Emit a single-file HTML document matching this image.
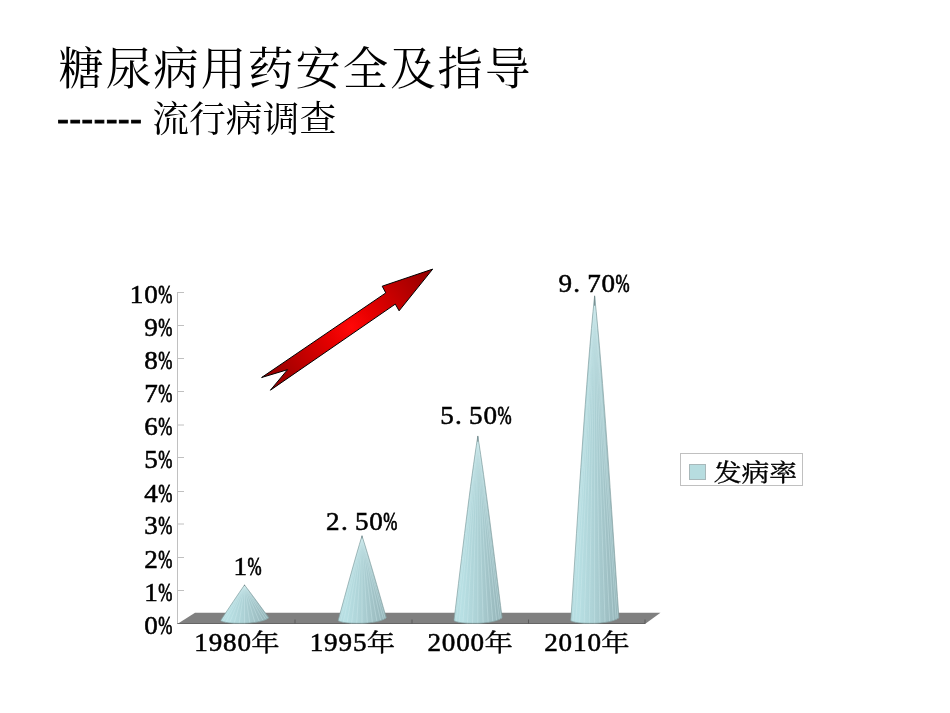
<!DOCTYPE html>
<html lang="zh-CN">
<head>
<meta charset="utf-8">
<title>糖尿病用药安全及指导</title>
<style>
html,body{margin:0;padding:0;background:#fff;}
body{width:950px;height:713px;overflow:hidden;position:relative;font-family:"Liberation Serif","Noto Serif CJK SC",serif;color:#000;}
.title{position:absolute;left:58.5px;top:42px;font-size:45.4px;letter-spacing:2px;line-height:56px;white-space:nowrap;font-weight:400;}
.sub{position:absolute;left:58px;top:97.6px;font-size:36.8px;line-height:44px;white-space:nowrap;}
.sub .dash{font-family:"Liberation Sans",sans-serif;font-size:36px;-webkit-text-stroke:0.9px #000;position:relative;top:-0.6px;margin-left:-1px;letter-spacing:0.17px;}
svg{position:absolute;left:0;top:0;}
svg text{font-family:"Liberation Serif","Noto Serif CJK SC",serif;font-size:24px;fill:#000;}
svg text.d{stroke:#000;stroke-width:0.5px;}
svg .c{stroke:#000;stroke-width:0.35px;}
svg .p{stroke:#000;stroke-width:0.75px;}
</style>
</head>
<body>
<div class="title">糖尿病用药安全及指导</div>
<div class="sub"><span class="dash">------- </span>流行病调查</div>
<svg width="950" height="713" viewBox="0 0 950 713">
<defs>
<linearGradient id="cone" x1="0" y1="0" x2="1" y2="0">
<stop offset="0" stop-color="#b3dade"/><stop offset="0.15" stop-color="#b8e0e4"/><stop offset="0.45" stop-color="#aed3d7"/><stop offset="0.75" stop-color="#a0c1c5"/><stop offset="1" stop-color="#93b3b7"/>
</linearGradient>
<radialGradient id="arrow" gradientUnits="userSpaceOnUse" cx="351" cy="327" r="104">
<stop offset="0" stop-color="#ff0808"/><stop offset="0.22" stop-color="#e80000"/><stop offset="0.6" stop-color="#ba0000"/><stop offset="1" stop-color="#8c0000"/>
</radialGradient>
</defs>
<g stroke="#c0c0c0" stroke-width="1" fill="none">
<path d="M177.5 292V623.5"/>
<path d="M177.5 590.5H184"/>
<path d="M177.5 557.5H184"/>
<path d="M177.5 524.0H184"/>
<path d="M177.5 491.5H184"/>
<path d="M177.5 457.5H184"/>
<path d="M177.5 425.0H184"/>
<path d="M177.5 391.5H184"/>
<path d="M177.5 358.5H184"/>
<path d="M177.5 325.5H184"/>
<path d="M177.5 292.5H184"/>
</g>
<polygon points="177.3,624 645,624 660.5,612.7 195,612.7" fill="#808080"/><path d="M177.3 623.5H645" stroke="#5e5e5e" stroke-width="0.8"/>
<g stroke="#5a5a5a" stroke-width="1">
<path d="M295 619.5V623.7"/>
<path d="M412 619.5V623.7"/>
<path d="M528.5 619.5V623.7"/>
<path d="M645 619.5V623.7"/>
</g>
<text class="d" transform="translate(144.2,633.7) scale(1.13,1.02)" x="0.00">0<tspan class="p" x="12.39" textLength="12.5" lengthAdjust="spacingAndGlyphs">%</tspan></text>
<text class="d" transform="translate(144.2,600.7) scale(1.13,1.02)" x="0.00">1<tspan class="p" x="12.39" textLength="12.5" lengthAdjust="spacingAndGlyphs">%</tspan></text>
<text class="d" transform="translate(144.2,567.7) scale(1.13,1.02)" x="0.00">2<tspan class="p" x="12.39" textLength="12.5" lengthAdjust="spacingAndGlyphs">%</tspan></text>
<text class="d" transform="translate(144.2,534.2) scale(1.13,1.02)" x="0.00">3<tspan class="p" x="12.39" textLength="12.5" lengthAdjust="spacingAndGlyphs">%</tspan></text>
<text class="d" transform="translate(144.2,501.7) scale(1.13,1.02)" x="0.00">4<tspan class="p" x="12.39" textLength="12.5" lengthAdjust="spacingAndGlyphs">%</tspan></text>
<text class="d" transform="translate(144.2,467.7) scale(1.13,1.02)" x="0.00">5<tspan class="p" x="12.39" textLength="12.5" lengthAdjust="spacingAndGlyphs">%</tspan></text>
<text class="d" transform="translate(144.2,435.2) scale(1.13,1.02)" x="0.00">6<tspan class="p" x="12.39" textLength="12.5" lengthAdjust="spacingAndGlyphs">%</tspan></text>
<text class="d" transform="translate(144.2,401.7) scale(1.13,1.02)" x="0.00">7<tspan class="p" x="12.39" textLength="12.5" lengthAdjust="spacingAndGlyphs">%</tspan></text>
<text class="d" transform="translate(144.2,368.7) scale(1.13,1.02)" x="0.00">8<tspan class="p" x="12.39" textLength="12.5" lengthAdjust="spacingAndGlyphs">%</tspan></text>
<text class="d" transform="translate(144.2,335.7) scale(1.13,1.02)" x="0.00">9<tspan class="p" x="12.39" textLength="12.5" lengthAdjust="spacingAndGlyphs">%</tspan></text>
<text class="d" transform="translate(129.8,302.7) scale(1.13,1.02)" x="0.00 12.74">10<tspan class="p" x="25.13" textLength="12.5" lengthAdjust="spacingAndGlyphs">%</tspan></text>
<path d="M244.5 585.0 C238.3 593.9 228.9 608.0 220.7 620.4 C222.5 622.7 232.5 623.4 242.5 623.3 C252.5 623.2 264.5 621.6 268.8 617.7 C260.4 606.3 250.9 593.2 244.5 585.0 Z" fill="url(#cone)"/>
<path d="M244.5 586.0L221.1 621.2M244.5 586.0L222.9 621.9M244.5 586.0L225.7 622.5M244.5 586.0L229.5 623.0M244.5 586.0L234.1 623.3M244.5 586.0L239.2 623.4M244.5 586.0L244.5 623.4M244.5 586.0L249.8 623.0M244.5 586.0L254.9 622.5M244.5 586.0L259.5 621.8M244.5 586.0L263.3 621.0M244.5 586.0L266.1 620.0M244.5 586.0L267.9 618.8" stroke="#d2ecef" stroke-width="0.5" fill="none" opacity="0.75"/>
<path d="M244.5 585.0 C238.3 593.9 228.9 608.0 220.7 620.4 C222.5 622.7 232.5 623.4 242.5 623.3 C252.5 623.2 264.5 621.6 268.8 617.7 C260.4 606.3 250.9 593.2 244.5 585.0 Z" fill="none" stroke="#84a0a2" stroke-width="0.7" stroke-linejoin="miter" stroke-miterlimit="40"/>
<path d="M244.5 584.7V586.0" stroke="#6f8286" stroke-width="0.9"/>
<text class="d" transform="translate(233.5,574.6) scale(1.13,1.02)" x="0.00">1<tspan class="p" x="12.39" textLength="12.5" lengthAdjust="spacingAndGlyphs">%</tspan></text>
<path d="M362 535.9 C355.4 557.0 346.3 590.8 338.2 620.4 C340.0 622.7 350.0 623.4 360.0 623.3 C370.0 623.2 382.0 621.6 386.3 617.7 C378.0 589.1 368.7 556.4 362 535.9 Z" fill="url(#cone)"/>
<path d="M362 536.9L338.6 621.2M362 536.9L340.4 621.9M362 536.9L343.2 622.5M362 536.9L347.0 623.0M362 536.9L351.6 623.3M362 536.9L356.7 623.4M362 536.9L362.0 623.4M362 536.9L367.3 623.0M362 536.9L372.4 622.5M362 536.9L377.0 621.8M362 536.9L380.8 621.0M362 536.9L383.6 620.0M362 536.9L385.4 618.8" stroke="#d2ecef" stroke-width="0.5" fill="none" opacity="0.75"/>
<path d="M362 535.9 C355.4 557.0 346.3 590.8 338.2 620.4 C340.0 622.7 350.0 623.4 360.0 623.3 C370.0 623.2 382.0 621.6 386.3 617.7 C378.0 589.1 368.7 556.4 362 535.9 Z" fill="none" stroke="#84a0a2" stroke-width="0.7" stroke-linejoin="miter" stroke-miterlimit="40"/>
<path d="M362 535.6V538.4" stroke="#6f8286" stroke-width="0.9"/>
<text class="d" transform="translate(326.1,530.1) scale(1.13,1.02)" x="0.00 13.19 25.49 38.23">2.50<tspan class="p" x="50.62" textLength="12.5" lengthAdjust="spacingAndGlyphs">%</tspan></text>
<path d="M477.8 436.2 C470.4 482.2 461.9 555.9 454.0 620.4 C455.8 622.7 465.8 623.4 475.8 623.3 C485.8 623.2 497.8 621.6 502.1 617.7 C494.0 554.2 485.3 481.6 477.8 436.2 Z" fill="url(#cone)"/>
<path d="M477.8 437.2L454.4 621.2M477.8 437.2L456.2 621.9M477.8 437.2L459.0 622.5M477.8 437.2L462.8 623.0M477.8 437.2L467.4 623.3M477.8 437.2L472.5 623.4M477.8 437.2L477.8 623.4M477.8 437.2L483.1 623.0M477.8 437.2L488.2 622.5M477.8 437.2L492.8 621.8M477.8 437.2L496.6 621.0M477.8 437.2L499.4 620.0M477.8 437.2L501.2 618.8" stroke="#d2ecef" stroke-width="0.5" fill="none" opacity="0.75"/>
<path d="M477.8 436.2 C470.4 482.2 461.9 555.9 454.0 620.4 C455.8 622.7 465.8 623.4 475.8 623.3 C485.8 623.2 497.8 621.6 502.1 617.7 C494.0 554.2 485.3 481.6 477.8 436.2 Z" fill="none" stroke="#84a0a2" stroke-width="0.7" stroke-linejoin="miter" stroke-miterlimit="40"/>
<path d="M477.8 435.9V441.7" stroke="#6f8286" stroke-width="0.9"/>
<text class="d" transform="translate(440.2,424.4) scale(1.13,1.02)" x="0.00 13.19 25.49 38.23">5.50<tspan class="p" x="50.62" textLength="12.5" lengthAdjust="spacingAndGlyphs">%</tspan></text>
<path d="M594.6 296.0 C586.1 377.1 578.3 506.9 570.8 620.4 C572.6 622.7 582.6 623.4 592.6 623.3 C602.6 623.2 614.6 621.6 618.9 617.7 C611.2 505.1 603.3 376.4 594.6 296.0 Z" fill="url(#cone)"/>
<path d="M594.6 297.0L571.2 621.2M594.6 297.0L573.0 621.9M594.6 297.0L575.8 622.5M594.6 297.0L579.6 623.0M594.6 297.0L584.2 623.3M594.6 297.0L589.3 623.4M594.6 297.0L594.6 623.4M594.6 297.0L599.9 623.0M594.6 297.0L605.0 622.5M594.6 297.0L609.6 621.8M594.6 297.0L613.4 621.0M594.6 297.0L616.2 620.0M594.6 297.0L618.0 618.8" stroke="#d2ecef" stroke-width="0.5" fill="none" opacity="0.75"/>
<path d="M594.6 296.0 C586.1 377.1 578.3 506.9 570.8 620.4 C572.6 622.7 582.6 623.4 592.6 623.3 C602.6 623.2 614.6 621.6 618.9 617.7 C611.2 505.1 603.3 376.4 594.6 296.0 Z" fill="none" stroke="#84a0a2" stroke-width="0.7" stroke-linejoin="miter" stroke-miterlimit="40"/>
<path d="M594.6 295.7V305.7" stroke="#6f8286" stroke-width="0.9"/>
<text class="d" transform="translate(558.4,292.0) scale(1.13,1.02)" x="0.00 13.19 25.49 38.23">9.70<tspan class="p" x="50.62" textLength="12.5" lengthAdjust="spacingAndGlyphs">%</tspan></text>
<text class="d" transform="translate(194.3,651.0) scale(1.13,1.02)" x="0.00 12.74 25.49 38.23">1980<tspan class="c" x="50.48" font-size="23.53" textLength="25.06" lengthAdjust="spacingAndGlyphs">年</tspan></text>
<text class="d" transform="translate(309.7,651.0) scale(1.13,1.02)" x="0.00 12.74 25.49 38.23">1995<tspan class="c" x="50.48" font-size="23.53" textLength="25.06" lengthAdjust="spacingAndGlyphs">年</tspan></text>
<text class="d" transform="translate(427.4,651.0) scale(1.13,1.02)" x="0.00 12.74 25.49 38.23">2000<tspan class="c" x="50.48" font-size="23.53" textLength="25.06" lengthAdjust="spacingAndGlyphs">年</tspan></text>
<text class="d" transform="translate(544.2,651.0) scale(1.13,1.02)" x="0.00 12.74 25.49 38.23">2010<tspan class="c" x="50.48" font-size="23.53" textLength="25.06" lengthAdjust="spacingAndGlyphs">年</tspan></text>
<rect x="680.5" y="453.5" width="122" height="32" fill="#fff" stroke="#c0c0c0" stroke-width="1"/>
<rect x="689.5" y="464.5" width="16" height="15" fill="#b7dde0" stroke="#a8b8ba" stroke-width="1"/>
<text class="c" transform="translate(713.7,481.0) scale(1.16,1)" x="0.00 23.97 47.93">发病率</text>
<polygon points="432.7,269.1 382.2,286.2 385.8,292.9 261.6,377.5 287.5,369.7 270.4,390.2 395.3,304.1 399.1,310.8" fill="url(#arrow)" stroke="#000" stroke-width="1" stroke-linejoin="miter"/>
</svg>
</body>
</html>
